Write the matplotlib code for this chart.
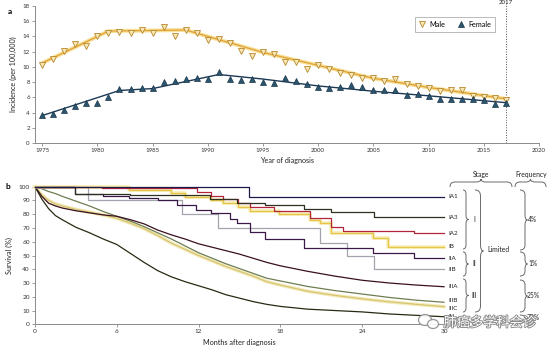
import matplotlib
matplotlib.use("Agg")
import matplotlib.pyplot as plt
from matplotlib.path import Path
from matplotlib.patches import PathPatch, Ellipse
import matplotlib.patheffects as pe

plt.rcParams["font.family"] = ["Lato", "DejaVu Sans"]

# ---------------- panel a: incidence by sex ----------------
years = list(range(1975, 2018))
male_rate = [10.2, 11.0, 12.1, 13.0, 12.8, 14.0, 14.4, 14.6, 14.4, 14.8,
             14.5, 15.2, 14.0, 14.9, 14.5, 13.5, 13.7, 13.1, 12.1, 11.4,
             11.9, 11.7, 10.6, 10.7, 9.7, 10.2, 9.7, 9.2, 8.9, 8.6,
             8.5, 8.2, 8.4, 7.7, 7.5, 7.2, 6.8, 6.9, 6.9, 6.2,
             6.1, 5.9, 5.7]
female_rate = [3.7, 3.8, 4.3, 4.9, 5.2, 5.2, 6.0, 7.1, 7.1, 7.2,
               7.2, 8.0, 8.2, 8.4, 8.6, 8.4, 9.3, 8.4, 8.3, 8.4,
               8.0, 7.9, 8.5, 8.1, 7.8, 7.4, 7.2, 7.3, 7.6, 7.4,
               6.9, 6.9, 6.9, 6.3, 6.5, 6.2, 5.8, 5.8, 5.8, 5.8,
               5.6, 5.1, 5.3]

# joinpoint trend fits
male_fit_years = [1975, 1981, 1988, 1990, 1995, 2000, 2005, 2010, 2017]
male_fit = [10.5, 14.7, 14.85, 14.0, 11.9, 10.2, 8.5, 7.3, 5.8]
female_fit_years = [1975, 1982, 1985, 1991, 1995, 2000, 2005, 2010, 2017]
female_fit = [3.6, 6.9, 7.15, 9.0, 8.4, 7.5, 6.8, 6.2, 5.3]

year_ticks = [1975, 1980, 1985, 1990, 1995, 2000, 2005, 2010, 2015, 2020]
rate_ticks = [0, 2, 4, 6, 8, 10, 12, 14, 16, 18]

# ---------------- panel b: survival by stage ----------------
# limited-stage groups (step curves): drop times (months) and survival (%)
ia1_t = [0, 15.7]
ia1_s = [100, 92.7]
ia3_t = [0, 2.9, 7.0, 12.8, 14.8, 16.9, 19.7, 21.7, 24.9]
ia3_s = [100, 95, 94, 91, 88.5, 86.5, 84, 81.5, 77.7]
ia2_t = [0, 4.9, 11.9, 12.9, 13.8, 14.9, 15.8, 17.5, 20.2, 21.7, 22.6, 27.8]
ia2_s = [100, 99, 96, 93.5, 91, 88, 85, 82, 77, 71, 67.5, 66]
ib_t = [0, 6.9, 10.0, 11.0, 12.9, 13.8, 14.9, 15.8, 17.9, 20.2, 20.9, 21.7, 24.8, 25.9]
ib_s = [100, 97.5, 95.6, 92.7, 90.3, 87.8, 85.2, 82.5, 80, 75.7, 73.3, 66, 62.5, 56.5]
iia_t = [0, 2.9, 5.0, 6.9, 9.0, 10.4, 11.8, 12.9, 14.3, 14.8, 15.8, 16.9, 19.7, 24.8, 27.8]
iia_s = [100, 95, 93, 92, 90, 86.6, 83, 80.6, 76.2, 73.3, 67.2, 62, 55.5, 51.6, 48]
iib_t = [0, 3.9, 10.8, 13.4, 20.9, 22.9, 24.9]
iib_s = [100, 90, 80, 70, 59, 49.5, 40]

# larger groups (smooth-looking curves)
months = [0, 0.5, 1, 1.5, 2, 3, 4, 5, 6, 7, 8, 9, 10, 11, 12, 13, 14, 15,
          16, 17, 18, 20, 22, 24, 26, 28, 30]
iiia_s = [100, 93, 88, 86, 84.5, 82.5, 81, 79.5, 78.5, 76, 73, 68.5, 65, 62,
          58.5, 56, 53.5, 51, 48, 45, 42.5, 38.5, 35, 32, 30, 28.5, 27.3]
iiib_s = [100, 98.5, 96.5, 95, 93, 89.5, 86, 82, 78.5, 75, 71, 66.5, 62, 57,
          52, 48, 44, 40.5, 37, 33.5, 31.5, 27.5, 24.5, 22, 19.5, 17.5, 16]
iiic_s = [100, 94, 90, 87.5, 86, 83.5, 81.5, 79.5, 77, 73.5, 69.5, 64.5, 59,
          54.5, 50, 46, 42, 38.5, 35, 31, 28.5, 24, 21, 18.5, 16.3, 14.5, 12.8]
iv_s = [100, 91, 84, 79, 76, 70.5, 66.5, 62, 58, 51.5, 45, 39, 34.5, 31, 28,
        25, 21.5, 19, 16.5, 14.5, 13, 11, 10, 9, 7.5, 6.5, 5.5]

month_ticks = [0, 6, 12, 18, 24, 30]
surv_ticks = [0, 10, 20, 30, 40, 50, 60, 70, 80, 90, 100]

stage_labels = ["IA1", "IA3", "IA2", "IB", "IIA", "IIB", "IIIA", "IIIB", "IIIC", "IV"]
stage_groups = ["I", "II", "III"]
frequencies = ["4%", "1%", "25%", "70%"]

# ---------------- figure ----------------
W, H = 554, 349
fig = plt.figure(figsize=(W / 100, H / 100), dpi=100)


def fx(x):
    return x / W


def fy(y):
    return 1 - y / H


spine_col = "#8a8a8a"
tick_col = "#333333"


def style_axes(ax, fs):
    for s in ("top", "right"):
        ax.spines[s].set_visible(False)
    for s in ("left", "bottom"):
        ax.spines[s].set_color(spine_col)
        ax.spines[s].set_linewidth(0.7)
    ax.tick_params(direction="out", length=2.2, width=0.6, color=spine_col,
                   labelsize=fs, labelcolor=tick_col, pad=1.5)


# panel a
ax_a = fig.add_axes([fx(35), fy(143), (539 - 35) / W, (143 - 6) / H])
style_axes(ax_a, 4.4)
ax_a.set_xlim(1974.35, 2020)
ax_a.set_ylim(0, 18)
ax_a.set_xticks(year_ticks)
ax_a.set_yticks(rate_ticks)

ax_a.plot(male_fit_years, male_fit, color="#f7df94", lw=2.8, solid_capstyle="round", zorder=2)
ax_a.plot(male_fit_years, male_fit, color="#e0a33a", lw=0.9, zorder=3)
ax_a.plot(female_fit_years, female_fit, color="#1d3b57", lw=1.0, zorder=3)
m_male, = ax_a.plot(years, male_rate, ls="none", marker="v", ms=3.8,
                    mfc="#f8e8b4", mec="#b8862c", mew=0.6, zorder=4)
m_female, = ax_a.plot(years, female_rate, ls="none", marker="^", ms=3.8,
                      mfc="#2b5670", mec="#1a3448", mew=0.5, zorder=4)

ax_a.axvline(2017, ymin=0, ymax=1.03, color="#555555", lw=0.7,
             ls=(0, (1, 1.6)), clip_on=False, zorder=1)
fig.text(fx(506), fy(0.3), "2017", ha="center", va="top", fontsize=4.4, color="#222222")

ax_a.set_xlabel("Year of diagnosis", fontsize=5.2, color="#222222", labelpad=3)
ax_a.set_ylabel("Incidence (per 100,000)", fontsize=5.2, color="#222222", labelpad=4)

leg = ax_a.legend([m_male, m_female], ["Male", "Female"], ncol=2,
                  loc="upper right", bbox_to_anchor=((495 - 35) / 504, (143 - 17) / 137),
                  borderaxespad=0, fontsize=5.2, frameon=True, fancybox=False,
                  handlelength=1.0, handletextpad=0.5, columnspacing=1.6,
                  borderpad=0.55)
leg.get_frame().set_edgecolor("#9a9a9a")
leg.get_frame().set_linewidth(0.6)

fig.text(fx(10), fy(12), "a", fontsize=6, fontweight="bold", ha="center", va="center")

# panel b
ax_b = fig.add_axes([fx(35), fy(324.3), (444 - 35) / W, (324.3 - 186.7) / H])
style_axes(ax_b, 4.6)
ax_b.set_xlim(0, 30)
ax_b.set_ylim(0, 100)
ax_b.set_xticks(month_ticks)
ax_b.set_yticks(surv_ticks)


def km(ax, t, s, color, lw=0.9, glow=None, z=3):
    tt = list(t) + [30]
    ss = list(s) + [s[-1]]
    if glow:
        ax.step(tt, ss, where="post", color=glow, lw=2.6, clip_on=False, zorder=z - 0.5)
    ax.step(tt, ss, where="post", color=color, lw=lw, clip_on=False, zorder=z)


def smooth(ax, s, color, lw=0.9, glow=None, z=3):
    if glow:
        ax.plot(months, s, color=glow, lw=2.6, clip_on=False, zorder=z - 0.5)
    ax.plot(months, s, color=color, lw=lw, clip_on=False, zorder=z)


smooth(ax_b, iiic_s, "#d6c472", glow="#f4ebbb", z=3)
smooth(ax_b, iiib_s, "#6e7d52", z=4)
smooth(ax_b, iiia_s, "#3a1020", z=4)
smooth(ax_b, iv_s, "#2a2a14", z=4)

km(ax_b, iib_t, iib_s, "#a4a4ae", z=5)
km(ax_b, ib_t, ib_s, "#e6c44a", glow="#f8eeb4", z=5)
km(ax_b, iia_t, iia_s, "#3a1848", z=6)
km(ax_b, ia2_t, ia2_s, "#b0243c", z=6)
km(ax_b, ia3_t, ia3_s, "#2e3020", z=6)
km(ax_b, ia1_t, ia1_s, "#1a1a4a", z=7)

ax_b.set_xlabel("Months after diagnosis", fontsize=5.2, color="#222222", labelpad=3)
ax_b.set_ylabel("Survival (%)", fontsize=5.2, color="#222222", labelpad=4)
fig.text(fx(8), fy(186), "b", fontsize=6, fontweight="bold", ha="center", va="center")

# stage labels at the right end of each curve (IIIB/IIIC pulled apart slightly)
ends = [ia1_s[-1], ia3_s[-1], ia2_s[-1], ib_s[-1], iia_s[-1], iib_s[-1],
        iiia_s[-1], iiib_s[-1], iiic_s[-1], iv_s[-1]]
nudge = [0, 0, 0, 0, 0, 0, 0, 1.3, -1.3, 0]
for lab, v, d in zip(stage_labels, ends, nudge):
    ax_b.text(30.35, v + d, lab, fontsize=4.5, color="#222222", ha="left", va="center",
              clip_on=False)

brace_col = "#6a6a6a"


def vbrace(x, y0, y1, w=3.0, tip=2.5, r=4.0):
    ym = (y0 + y1) / 2
    pts = [(x, y0), (x + w, y0), (x + w, y0 + r),
           (x + w, ym - r), (x + w, ym), (x + w + tip, ym),
           (x + w, ym), (x + w, ym + r),
           (x + w, y1 - r), (x + w, y1), (x, y1)]
    codes = [Path.MOVETO, Path.CURVE3, Path.CURVE3, Path.LINETO, Path.CURVE3, Path.CURVE3,
             Path.CURVE3, Path.CURVE3, Path.LINETO, Path.CURVE3, Path.CURVE3]
    p = Path([(fx(a), fy(b)) for a, b in pts], codes)
    fig.add_artist(PathPatch(p, transform=fig.transFigure, fill=False,
                             edgecolor=brace_col, lw=0.7))


def hbrace(x0, x1, y, h=5.0, tip=3.0, r=5.0):
    xm = (x0 + x1) / 2
    yb = y - h
    pts = [(x0, y), (x0, yb), (x0 + r, yb),
           (xm - r, yb), (xm, yb), (xm, yb - tip),
           (xm, yb), (xm + r, yb),
           (x1 - r, yb), (x1, yb), (x1, y)]
    codes = [Path.MOVETO, Path.CURVE3, Path.CURVE3, Path.LINETO, Path.CURVE3, Path.CURVE3,
             Path.CURVE3, Path.CURVE3, Path.LINETO, Path.CURVE3, Path.CURVE3]
    p = Path([(fx(a), fy(b)) for a, b in pts], codes)
    fig.add_artist(PathPatch(p, transform=fig.transFigure, fill=False,
                             edgecolor=brace_col, lw=0.7))


txt = dict(fontsize=4.9, color="#222222", ha="center", va="center")

# stage groups
group_spans = [(190, 249), (252, 276), (279, 312)]
for g, (a, b) in zip(stage_groups, group_spans):
    vbrace(463, a, b)
    fig.text(fx(474.5), fy((a + b) / 2), g, **txt)

vbrace(475, 190, 312, w=5.5, tip=3.0, r=6)
fig.text(fx(498), fy(250), "Limited", **txt)

# frequency groups
freq_spans = [(190, 250), (252, 276), (280, 312), (315, 323)]
for f, (a, b) in zip(frequencies, freq_spans):
    vbrace(520, a, b, w=5.0, tip=2.5, r=5 if b - a > 12 else 3)
    fig.text(fx(533), fy((a + b) / 2 - 1), f, **txt)

hbrace(450, 512, 187)
hbrace(515, 546, 187)
fig.text(fx(481), fy(175), "Stage", **txt)
fig.text(fx(531), fy(175), "Frequency", **txt)

# account mark in the lower right corner
for cx, cy, rw, rh in [(425, 320, 13, 11), (433, 324, 11, 9)]:
    fig.add_artist(Ellipse((fx(cx), fy(cy)), rw / W, rh / H, transform=fig.transFigure,
                           facecolor="white", edgecolor="#8c8c8c", lw=0.9, alpha=0.9))
fig.text(fx(490), fy(323), "肺癌多学科会诊", fontsize=9.5, color="white",
         family=["Noto Sans CJK SC", "DejaVu Sans"], ha="center", va="center",
         path_effects=[pe.withStroke(linewidth=1.3, foreground="#8a8a8a")])

fig.savefig("out.png", dpi=100)
